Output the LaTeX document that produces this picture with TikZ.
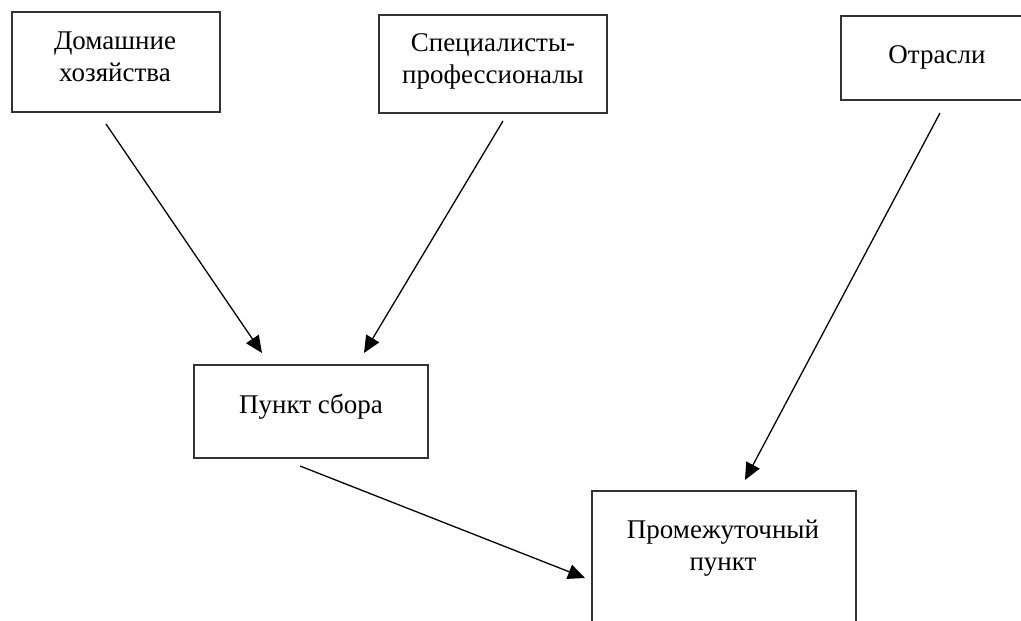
\documentclass[tikz,border=0pt]{standalone}
\usepackage{fontspec}
\setmainfont{Liberation Serif}
\usetikzlibrary{arrows.meta}
\begin{document}
\begin{tikzpicture}[x=1pt,y=-1pt,
  box/.style={draw=black!80,line width=1.2pt,inner sep=0pt,fill=none},
  lbl/.style={font=\fontsize{27}{32}\selectfont,align=center,inner sep=0pt,anchor=base},
  conn/.style={line width=1.3pt,-{Triangle[length=17pt,width=15pt]}}]
\useasboundingbox (0,0) rectangle (1021,621);
\clip (0,0) rectangle (1021,621);
\fill[white] (0,0) rectangle (1021,621);
% boxes
\node[box,minimum width=208pt,minimum height=100pt] (hh) at (116,62) {};
\node[box,minimum width=228pt,minimum height=98pt] (sp) at (493,64) {};
\node[box,minimum width=192pt,minimum height=84pt] (ot) at (937,58) {};
\node[box,minimum width=234pt,minimum height=93pt] (pk) at (311,411.5) {};
\node[box,minimum width=264pt,minimum height=148pt] (pr) at (724,565) {};
% labels (base = baseline of last line)
\node[lbl] (hh-t) at (115,81) {Домашние\\хозяйства};
\node[lbl] (sp-t) at (493,83) {Специалисты-\\профессионалы};
\node[lbl] (ot-t) at (937,63) {Отрасли};
\node[lbl] (pk-t) at (311,413) {Пункт сбора};
\node[lbl] (pr-t) at (723,570) {Промежуточный\\пункт};
% connector ends
\coordinate (a1s) at (106,124);
\coordinate (a1e) at (262,353);
\coordinate (a2s) at (503,121);
\coordinate (a2e) at (364,353);
\coordinate (a3s) at (940,113);
\coordinate (a3e) at (745,480);
\coordinate (a4s) at (300,466);
\coordinate (a4e) at (585,578);
\draw[conn] (a1s) -- (a1e);
\draw[conn] (a2s) -- (a2e);
\draw[conn] (a3s) -- (a3e);
\draw[conn] (a4s) -- (a4e);
\end{tikzpicture}
\end{document}
